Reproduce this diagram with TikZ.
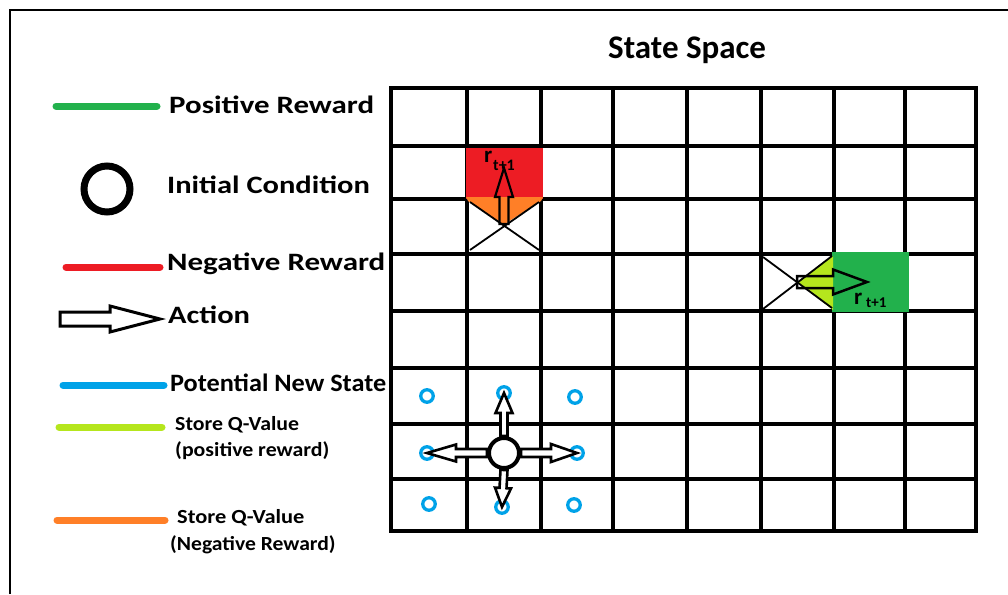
\documentclass[tikz,border=0pt]{standalone}
\usepackage{fontspec}
\setmainfont{Carlito}
\usetikzlibrary{calc}
\definecolor{pgreen}{HTML}{22B14C}
\definecolor{pred}{HTML}{ED1C24}
\definecolor{porange}{HTML}{FF7F27}
\definecolor{pblue}{HTML}{00A2E8}
\definecolor{plime}{HTML}{B5E61D}
\newcommand{\wide}[2]{\scalebox{#1}[1]{#2}}
\begin{document}
\begin{tikzpicture}[x=1pt,y=-1pt,
  gridline/.style={line width=3.5pt, line cap=rect},
  legline/.style={line width=7pt, line cap=round},
  big/.style={font=\fontsize{25}{25}\selectfont\bfseries, anchor=base west, inner sep=0pt},
  small/.style={font=\fontsize{20}{20}\selectfont\bfseries, anchor=base west, inner sep=0pt},
  title/.style={font=\fontsize{33}{33}\selectfont\bfseries, anchor=base west, inner sep=0pt},
  barrow/.style n args={3}{to path={
    ($(\tikztostart)!#1!90:(\tikztotarget)$)
    -- ($(\tikztotarget)!#3!(\tikztostart)!#1!-90:(\tikztostart)$)
    -- ($(\tikztotarget)!#3!(\tikztostart)!#2!-90:(\tikztostart)$)
    -- (\tikztotarget)
    -- ($(\tikztotarget)!#3!(\tikztostart)!#2!90:(\tikztostart)$)
    -- ($(\tikztotarget)!#3!(\tikztostart)!#1!90:(\tikztostart)$)
    -- ($(\tikztostart)!#1!-90:(\tikztotarget)$)
    -- cycle}},
  hollow/.style={draw=black, line join=miter},
  xline/.style={line width=1.8pt},
  bluedot/.style={circle, draw=pblue, line width=3.3pt, minimum size=12.5pt, inner sep=0pt},
  rlab/.style={font=\fontsize{23}{23}\selectfont\bfseries, anchor=base west, inner sep=0pt},
  sublab/.style={font=\fontsize{16}{16}\selectfont\bfseries, anchor=base west, inner sep=0pt}
]
\useasboundingbox (0,0) rectangle (1008,594);
% frame
\draw[line width=2pt] (10,594) -- (10,10) -- (1008,10);

% title
\node[title] (ttl) at (608,59) {State Space};

% grid
\foreach \x in {391,467,541,613,687,761,834,905,976}
  \draw[gridline] (\x,88) -- (\x,531);
\foreach \y in {88,146,199,254,311,368,424,479,531}
  \draw[gridline] (391,\y) -- (976,\y);

% negative reward cell
\fill[pred] (466,148) rectangle (543,199);
\fill[porange] (466,197) -- (543,197) -- (541,201) -- (503,225) -- (468,201) -- cycle;
\coordinate (xa1) at (470,202);
\coordinate (xa2) at (539,250);
\coordinate (xa3) at (539,202);
\coordinate (xa4) at (470,250);
\draw[xline] (xa1) -- (xa2);
\draw[xline] (xa3) -- (xa4);
\coordinate (ra) at (504,224);
\coordinate (rb) at (504,168);
\draw[hollow, line width=2.2pt] (ra) to[barrow={4.5pt}{9pt}{29pt}] (rb);
\node[rlab] (r1) at (484,162) {r};
\node[sublab] (r1s) at (493,170) {t+1};

% positive reward cell
\fill[pgreen] (832,252) rectangle (909,312);
\fill[plime] (833,256) -- (797,282) -- (833,310) -- cycle;
\coordinate (xb1) at (763,257);
\coordinate (xb2) at (832,308);
\coordinate (xb3) at (763,309);
\coordinate (xb4) at (832,256);
\draw[xline] (xb1) -- (xb2);
\draw[xline] (xb3) -- (xb4);
\coordinate (ga) at (797,282);
\coordinate (gb) at (867,282);
\draw[hollow, line width=2.5pt] (ga) to[barrow={6pt}{12.5pt}{34pt}] (gb);
\node[rlab] (r2) at (854,304) {r};
\node[sublab, font=\fontsize{15}{15}\selectfont\bfseries] (r2s) at (866,307) {t+1};

% potential new states
\node[bluedot] (n1) at (427,396) {};
\node[bluedot] (n2) at (504,393) {};
\node[bluedot] (n3) at (575,397) {};
\node[bluedot] (n4) at (427,453) {};
\node[bluedot] (n5) at (577,453) {};
\node[bluedot] (n6) at (429,504) {};
\node[bluedot] (n7) at (502,507) {};
\node[bluedot] (n8) at (574,505) {};

% initial condition and actions
\node[circle, draw, line width=4pt, fill=white, minimum size=30pt, inner sep=0pt] (init) at (504,453) {};
\draw[hollow, fill=white, line width=2.6pt] (init.north) to[barrow={3.5pt}{8.5pt}{20pt}] (n2.center);
\draw[hollow, fill=white, line width=2.6pt] (init.south) to[barrow={3.5pt}{8pt}{19pt}] (n7.center);
\draw[hollow, fill=white, line width=2.6pt] (init.west) to[barrow={4pt}{8.5pt}{29pt}] (n4.center);
\draw[hollow, fill=white, line width=2.6pt] (init.east) to[barrow={4pt}{9pt}{26pt}] (n5.center);

% legend
\draw[legline, pgreen] (56,106) -- (157,106);
\node[big] (l1) at (169,113) {\wide{1.236}{Positive Reward}};

\node[circle, draw, line width=7pt, minimum size=46pt, inner sep=0pt] (lc) at (107,189) {};
\node[big] (l2) at (167,193) {\wide{1.22}{Initial Condition}};

\draw[legline, pred] (66,267) -- (160,267);
\node[big] (l3) at (167,270) {\wide{1.24}{Negative Reward}};

\coordinate (la) at (60,319);
\coordinate (lb) at (160,319);
\draw[hollow, fill=white, line width=3pt] (la) to[barrow={7pt}{13pt}{50pt}] (lb);
\node[big] (l4) at (168,323) {\wide{1.22}{Action}};

\draw[legline, pblue] (63,385) -- (164,385);
\node[big] (l5) at (170,391) {\wide{1.05}{Potential New State}};

\draw[legline, plime] (59,427) -- (162,427);
\node[small] (l6) at (175,430) {\wide{1.09}{Store Q-Value}};
\node[small] (l6b) at (175,456) {\wide{1.09}{(positive reward)}};

\draw[legline, porange] (57,520) -- (165,520);
\node[small] (l7) at (177,523) {\wide{1.12}{Store Q-Value}};
\node[small] (l7b) at (170,550) {\wide{1.08}{(Negative Reward)}};
\end{tikzpicture}
\end{document}
